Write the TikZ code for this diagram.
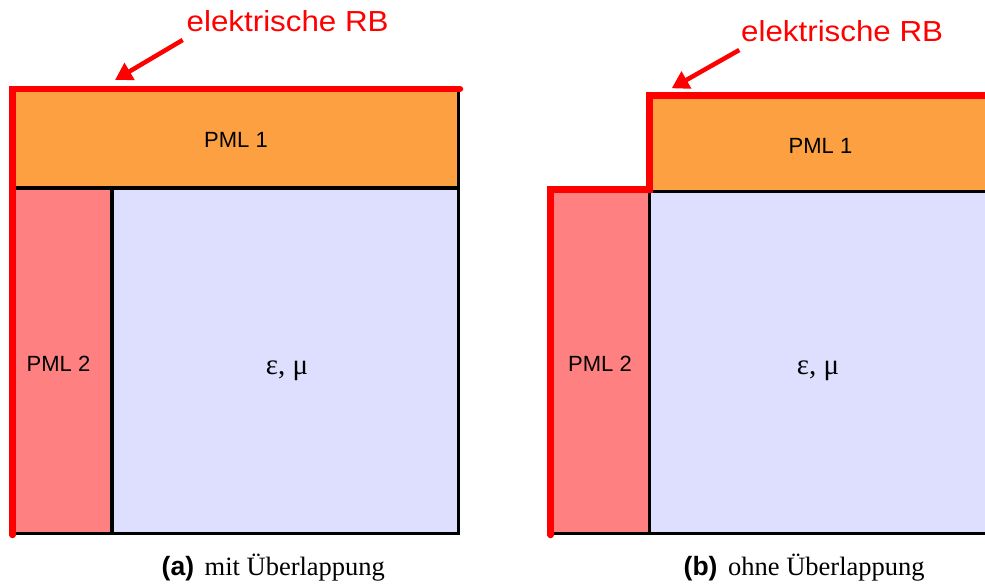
\documentclass[tikz,border=0pt]{standalone}
\usepackage{fontspec}
\setmainfont{Liberation Serif}
\setsansfont{Liberation Sans}
\usetikzlibrary{arrows.meta}
\definecolor{pmlone}{RGB}{252,160,66}
\definecolor{pmltwo}{RGB}{255,128,128}
\definecolor{medium}{RGB}{222,222,255}
\definecolor{rbred}{RGB}{255,0,0}
\begin{document}
\begin{tikzpicture}[x=1pt,y=-1pt,
  wall/.style={draw=black,line width=3.5pt},
  thinwall/.style={draw=black,line width=2.5pt},
  rb/.style={draw=rbred,line width=6.5pt,line cap=round,line join=miter},
  rbarrow/.style={draw=rbred,line width=4.5pt,-{Triangle[length=17pt,width=19pt]}},
  lbl/.style={font=\sffamily\fontsize{22}{26}\selectfont,inner sep=0pt,anchor=base},
  rblbl/.style={font=\sffamily\fontsize{29}{34}\selectfont,text=rbred,inner sep=0pt,anchor=base west},
  greek/.style={font=\rmfamily\fontsize{29}{34}\selectfont,inner sep=0pt,anchor=base},
  captxt/.style={font=\rmfamily\fontsize{26.5}{31}\selectfont,inner sep=0pt,anchor=base west}
]
\useasboundingbox (0,0) rectangle (985,586);
\begin{scope}
\clip (0,0) rectangle (985,586);
% ---------- (a) mit Ueberlappung ----------
\fill[pmlone] (12.5,89) rectangle (458.5,188);
\fill[pmltwo] (12.5,188) rectangle (112,533.5);
\fill[medium] (112,188) rectangle (458.5,533.5);
\draw[wall] (12.5,533.5) -- (458.5,533.5) -- (458.5,89);
\draw[wall] (12.5,188) -- (458.5,188);
\draw[wall] (112,188) -- (112,533.5);
\draw[rb] (12.5,535) -- (12.5,89) -- (460,89);
\node[lbl] (pmlAone) at (236,147.7) {PML 1};
\node[lbl] (pmlAtwo) at (58.5,371) {PML 2};
\node[greek] (medA) at (287,374) {ε, μ};
\node[rblbl] (rbA) at (186.5,31.7) {\scalebox{1.08}[1]{elektrische RB}};
\coordinate (rbAstart) at (182.7,40);
\coordinate (rbAtip) at (115,80);
\draw[rbarrow] (rbAstart) -- (rbAtip);
\node[captxt] (capA) at (161.5,575.5) {{\sffamily\bfseries (a)}\hspace{0.4em}mit Überlappung};
% ---------- (b) ohne Ueberlappung ----------
\fill[pmlone] (649.5,95.3) rectangle (995,191.5);
\fill[pmltwo] (550.5,189.5) rectangle (649.5,533.5);
\fill[medium] (649.5,191.5) rectangle (995,533.5);
\draw[wall] (550.5,533.5) -- (995,533.5);
\draw[wall] (649.5,189.5) -- (649.5,533.5);
\draw[thinwall] (649.5,191.5) -- (995,191.5);
\draw[rb] (550.5,535) -- (550.5,189.5) -- (649.5,189.5) -- (649.5,95.3) -- (1000,95.3);
\node[lbl] (pmlBone) at (820.5,153.3) {PML 1};
\node[lbl] (pmlBtwo) at (600,371) {PML 2};
\node[greek] (medB) at (818,374) {ε, μ};
\node[rblbl] (rbB) at (741,41.7) {\scalebox{1.08}[1]{elektrische RB}};
\coordinate (rbBstart) at (739.3,50);
\coordinate (rbBtip) at (671.7,88.3);
\draw[rbarrow] (rbBstart) -- (rbBtip);
\node[captxt] (capB) at (683.5,575.5) {{\sffamily\bfseries (b)}\hspace{0.4em}ohne Überlappung};
\end{scope}
\end{tikzpicture}
\end{document}
